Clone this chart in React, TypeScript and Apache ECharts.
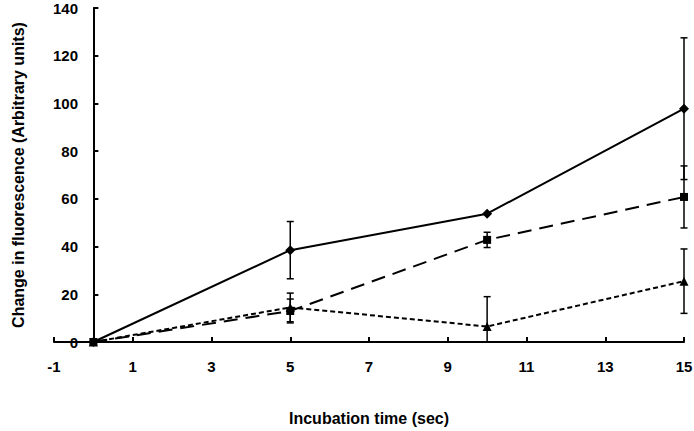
import React, { useEffect, useRef } from "react";
import * as echarts from "echarts";

const timeSec = [0, 5, 10, 15];
const seriesA = [0, 38.5, 53.8, 97.8];
const errA = [0, 12, 0, 29.7];
const seriesB = [0, 13, 42.8, 60.8];
const errB = [0, 5, 3.2, 13];
const seriesC = [0, 14.5, 6.5, 25.5];
const errC = [0, 6, 12.5, 13.5];
const xTickValues = [-1, 1, 3, 5, 7, 9, 11, 13, 15];
const yTitle = "Change in fluorescence (Arbitrary units)";
const xTitle = "Incubation time (sec)";

const FONT = "Liberation Sans, Arial, sans-serif";

function errorSeries(vals: number[], errs: number[]) {
  return {
    type: "custom",
    z: 1,
    data: timeSec.map((t, i) => [t, vals[i], errs[i]]),
    renderItem: (params: any, api: any) => {
      const x = api.value(0);
      const y = api.value(1);
      const e = api.value(2);
      if (!e) return null;
      const lo = Math.max(y - e, 0);
      const top = api.coord([x, y + e]);
      const bot = api.coord([x, lo]);
      const hw = 3.5;
      const style = { stroke: "#000", lineWidth: 1.5 };
      const children: any[] = [
        { type: "line", shape: { x1: top[0], y1: top[1], x2: bot[0], y2: bot[1] }, style },
        { type: "line", shape: { x1: top[0] - hw, y1: top[1], x2: top[0] + hw, y2: top[1] }, style },
      ];
      if (y - e >= 0) {
        children.push({ type: "line", shape: { x1: bot[0] - hw, y1: bot[1], x2: bot[0] + hw, y2: bot[1] }, style });
      }
      return { type: "group", children };
    },
  };
}

export default function App() {
  const ref = useRef<HTMLDivElement>(null);
  useEffect(() => {
    if (!ref.current) return;
    const chart = echarts.init(ref.current, undefined, { renderer: "svg" });
    const lineCommon = {
      type: "line",
      symbolSize: 9,
      itemStyle: { color: "#000" },
      z: 3,
    };
    chart.setOption({
      animation: false,
      backgroundColor: "#fff",
      grid: { left: 54, right: 10, top: 8, bottom: 89, containLabel: false, outerBoundsMode: "none" },
      graphic: [
        {
          type: "text",
          x: 18,
          y: 175,
          rotation: Math.PI / 2,
          style: {
            text: yTitle,
            fontFamily: FONT,
            fontWeight: "bold",
            fontSize: 16,
            fill: "#000",
            align: "center",
            verticalAlign: "middle",
          },
        },
      ],
      xAxis: {
        type: "value",
        min: -1,
        max: 15,
        name: xTitle,
        nameLocation: "middle",
        nameGap: 68,
        nameMoveOverlap: false,
        nameTextStyle: { fontFamily: FONT, fontWeight: "bold", fontSize: 16, color: "#000" },
        axisLine: { lineStyle: { color: "#000", width: 2 } },
        axisTick: { show: true, inside: true, length: 5, customValues: xTickValues, lineStyle: { color: "#000", width: 2 } },
        axisLabel: { customValues: xTickValues, margin: 17, fontFamily: FONT, fontWeight: "bold", fontSize: 15, color: "#000" },
        splitLine: { show: false },
      },
      yAxis: {
        type: "value",
        min: 0,
        max: 140,
        interval: 20,
        axisLine: { show: true, onZero: true, lineStyle: { color: "#000", width: 2 } },
        axisTick: { show: true, inside: true, length: 5, lineStyle: { color: "#000", width: 2 } },
        axisLabel: { margin: -24, fontFamily: FONT, fontWeight: "bold", fontSize: 15, color: "#000" },
        splitLine: { show: false },
      },
      series: [
        errorSeries(seriesA, errA),
        errorSeries(seriesB, errB),
        errorSeries(seriesC, errC),
        {
          ...lineCommon,
          symbol: "diamond",
          symbolSize: 10,
          lineStyle: { color: "#000", width: 2, type: "solid" },
          data: timeSec.map((t, i) => [t, seriesA[i]]),
        },
        {
          ...lineCommon,
          symbol: "rect",
          symbolSize: 8,
          lineStyle: { color: "#000", width: 2, type: [14, 8] },
          data: timeSec.map((t, i) => [t, seriesB[i]]),
        },
        {
          ...lineCommon,
          symbol: "triangle",
          symbolSize: 9,
          lineStyle: { color: "#000", width: 2, type: [5, 3] },
          data: timeSec.map((t, i) => [t, seriesC[i]]),
        },
      ],
    });
    return () => chart.dispose();
  }, []);
  return <div ref={ref} style={{ width: 694, height: 431, position: "absolute", left: 0, top: 0 }} />;
}
